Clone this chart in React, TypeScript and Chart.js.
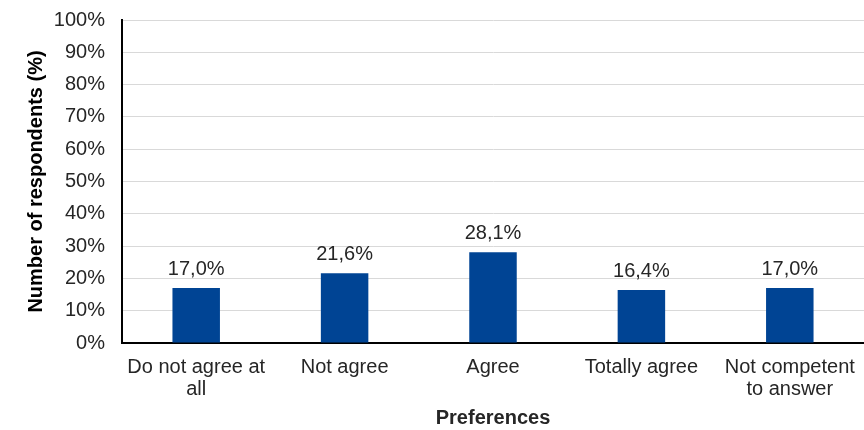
import React, { useEffect, useRef } from "react";
import { Chart, registerables } from "chart.js";

Chart.register(...registerables);

const categories: (string | string[])[] = [
  ["Do not agree at", "all"],
  "Not agree",
  "Agree",
  "Totally agree",
  ["Not competent", "to answer"],
];
const values: number[] = [17.0, 21.6, 28.1, 16.4, 17.0];
const yTicks: number[] = [0, 10, 20, 30, 40, 50, 60, 70, 80, 90, 100];

const FONT = "'Liberation Sans', Arial, sans-serif";
const TEXT = "#262626";
const fmt = (v: number) => v.toFixed(1).replace(".", ",") + "%";

// Writes each bar's percentage (decimal comma) above it.
const valueLabels = {
  id: "valueLabels",
  afterDatasetsDraw(chart: any) {
    const { ctx } = chart;
    const meta = chart.getDatasetMeta(0);
    ctx.save();
    ctx.font = `20px ${FONT}`;
    ctx.fillStyle = TEXT;
    ctx.textAlign = "center";
    ctx.textBaseline = "alphabetic";
    meta.data.forEach((bar: any, i: number) => {
      ctx.fillText(fmt(values[i]), bar.x, bar.y - 13);
    });
    ctx.restore();
  },
};

export default function App() {
  const ref = useRef<HTMLCanvasElement>(null);
  useEffect(() => {
    const chart = new Chart(ref.current!, {
      type: "bar",
      data: {
        labels: categories,
        datasets: [
          {
            data: values,
            backgroundColor: "#004494",
            categoryPercentage: 1,
            barPercentage: 0.32,
          },
        ],
      },
      options: {
        animation: false,
        responsive: false,
        maintainAspectRatio: false,
        layout: { padding: { top: 0, right: 0, left: 24, bottom: 0 } },
        plugins: { legend: { display: false }, tooltip: { enabled: false } },
        scales: {
          x: {
            afterFit: (axis: any) => {
              axis.height = 87;
            },
            grid: { display: false },
            border: { display: true, color: "#000", width: 2 },
            ticks: {
              color: TEXT,
              font: { family: FONT, size: 20, lineHeight: 1.1 },
              padding: 5,
              maxRotation: 0,
              autoSkip: false,
            },
            title: {
              display: true,
              text: "Preferences",
              color: TEXT,
              font: { family: FONT, size: 20, weight: "bold" },
              padding: { top: 3, bottom: 0 },
            },
          },
          y: {
            min: 0,
            max: 100,
            afterFit: (axis: any) => {
              axis.width = 98;
              axis.paddingTop = 20;
              axis.paddingBottom = 0;
            },
            afterBuildTicks: (axis: any) => {
              axis.ticks = yTicks.map((v) => ({ value: v }));
            },
            grid: { color: "#d9d9d9", lineWidth: 1, drawTicks: false },
            border: { display: true, color: "#000", width: 2 },
            ticks: {
              color: TEXT,
              font: { family: FONT, size: 20 },
              padding: 17,
              callback: (v: any) => v + "%",
            },
            title: {
              display: true,
              text: "Number of respondents (%)",
              color: "#000",
              font: { family: FONT, size: 20, weight: "bold" },
              padding: { top: 0, bottom: 4 },
            },
          },
        },
      },
      plugins: [valueLabels],
    });
    return () => chart.destroy();
  }, []);
  return (
    <div style={{ position: "fixed", left: 0, top: 0, width: 864, height: 430, background: "#fff" }}>
      <canvas ref={ref} width={864} height={430} />
    </div>
  );
}
